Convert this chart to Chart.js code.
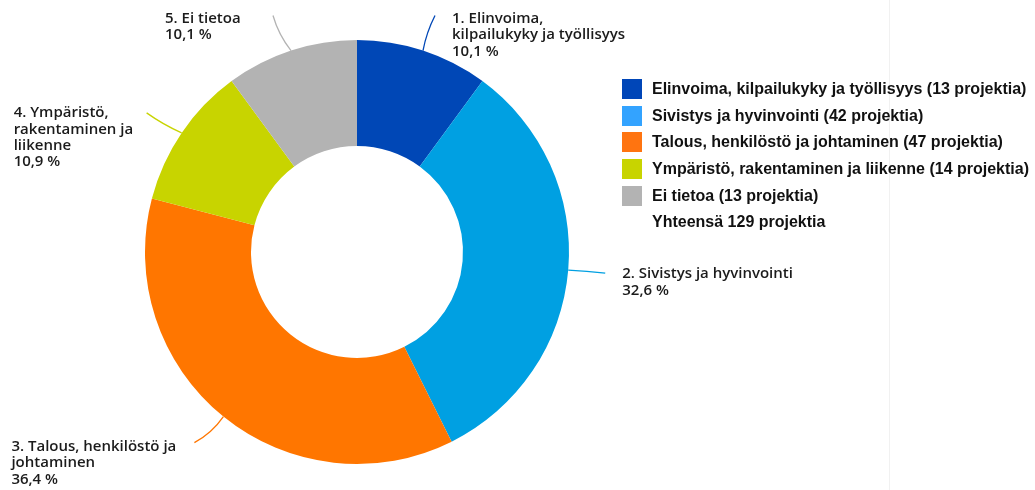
<!DOCTYPE html>
<html>
<head>
<meta charset="utf-8">
<script src="https://cdn.jsdelivr.net/npm/chart.js@4"></script>
<style>
  html, body { margin: 0; padding: 0; background: #fff; }
  #wrap { position: relative; width: 1035px; height: 490px; overflow: hidden; }
  #divider { position: absolute; left: 889px; top: 0; width: 1px; height: 490px; background: #f1f1f1; }
  #legend { position: absolute; left: 622px; top: 79px; font-family: "Liberation Sans", Arial, sans-serif;
            font-weight: bold; font-size: 16px; color: #111; }
  .row { height: 26.7px; display: flex; align-items: flex-start; white-space: nowrap; }
  .box { width: 20px; height: 20px; margin-right: 10px; flex: none; }
  .row span { line-height: 20px; }
</style>
</head>
<body>
<div id="wrap">
  <canvas id="chart" width="1035" height="490"></canvas>
  <div id="divider"></div>
  <div id="legend"></div>
</div>
<script>
// kategoriat ja projektimäärät
const categories = [
  'Elinvoima, kilpailukyky ja työllisyys',
  'Sivistys ja hyvinvointi',
  'Talous, henkilöstö ja johtaminen',
  'Ympäristö, rakentaminen ja liikenne',
  'Ei tietoa'
];
const projectCounts = [13, 42, 47, 14, 13];
const totalText = 'Yhteensä 129 projektia';

// kaavion sisäiset nimilaput (rivitettyinä)
const labelLines = [
  ['1. Elinvoima,', 'kilpailukyky ja työllisyys'],
  ['2. Sivistys ja hyvinvointi'],
  ['3. Talous, henkilöstö ja', 'johtaminen'],
  ['4. Ympäristö,', 'rakentaminen ja', 'liikenne'],
  ['5. Ei tietoa']
];

const sliceColors = ['#0047b6', '#00a0e2', '#ff7600', '#c8d400', '#b3b3b3'];
const legendColors = ['#0046b8', '#33a3ff', '#ff7410', '#c8d400', '#b3b3b3'];

// viivan loppupiste ja tekstin paikka suhteessa sektorin reunaan
const callouts = [
  { end: [12, -35], text: [29, -32], bend: 0.07 },
  { end: [37, 3], text: [54, 4], bend: 0.02 },
  { end: [-29, 26], text: [-212, 30], bend: 0.12 },
  { end: [-35, -20], text: [-168, -20], bend: 0.05 },
  { end: [-18, -35], text: [-126, -32], bend: 0.1 }
];

const total = projectCounts.reduce((a, b) => a + b, 0);
const pct = v => (v / total * 100).toFixed(1).replace('.', ',') + ' %';

const calloutPlugin = {
  id: 'callouts',
  afterDatasetsDraw(chart) {
    const ctx = chart.ctx;
    const meta = chart.getDatasetMeta(0);
    ctx.save();
    meta.data.forEach((arc, i) => {
      const p = arc.getProps(['x', 'y', 'startAngle', 'endAngle', 'outerRadius'], true);
      const mid = (p.startAngle + p.endAngle) / 2;
      const x0 = p.x + Math.cos(mid) * p.outerRadius;
      const y0 = p.y + Math.sin(mid) * p.outerRadius;
      const c = callouts[i];
      const x1 = x0 + c.end[0], y1 = y0 + c.end[1];
      // kevyesti kaareva viiva
      const cx = x0 + (x1 - x0) * 0.5 + (y1 - y0) * c.bend;
      const cy = y0 + (y1 - y0) * 0.5 - (x1 - x0) * c.bend;
      ctx.strokeStyle = sliceColors[i];
      ctx.lineWidth = 1.3;
      ctx.beginPath();
      ctx.moveTo(x0, y0);
      ctx.quadraticCurveTo(cx, cy, x1, y1);
      ctx.stroke();

      const lines = labelLines[i].concat([pct(projectCounts[i])]);
      ctx.fillStyle = '#1b1b1b';
      ctx.font = '600 15px "Open Sans", sans-serif';
      ctx.textAlign = 'left';
      ctx.textBaseline = 'middle';
      lines.forEach((t, k) => {
        ctx.fillText(t, x0 + c.text[0], y0 + c.text[1] + k * 16.4);
      });
    });
    ctx.restore();
  }
};

new Chart(document.getElementById('chart'), {
  type: 'doughnut',
  data: {
    labels: categories,
    datasets: [{
      data: projectCounts,
      backgroundColor: sliceColors,
      borderWidth: 0
    }]
  },
  options: {
    responsive: false,
    animation: false,
    cutout: '50%',
    layout: { padding: { left: 145, right: 466, top: 40, bottom: 26 } },
    plugins: {
      legend: { display: false },
      tooltip: { enabled: false }
    }
  },
  plugins: [calloutPlugin]
});

// selite
const legend = document.getElementById('legend');
categories.forEach((name, i) => {
  legend.insertAdjacentHTML('beforeend',
    `<div class="row"><div class="box" style="background:${legendColors[i]}"></div><span>${name} (${projectCounts[i]} projektia)</span></div>`);
});
legend.insertAdjacentHTML('beforeend',
  `<div class="row"><div class="box"></div><span>${totalText}</span></div>`);
</script>
</body>
</html>
